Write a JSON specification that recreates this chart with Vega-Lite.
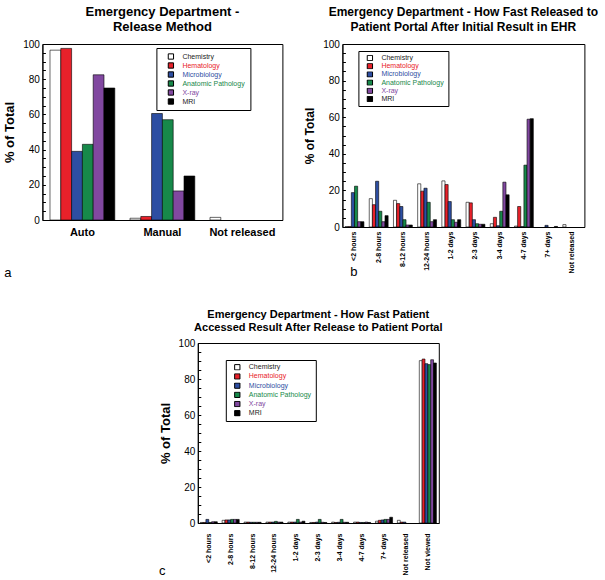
{
  "$schema": "https://vega.github.io/schema/vega-lite/v6.json",
  "padding": {"left": 3, "top": 5, "right": 0, "bottom": 0},
  "background": "white",
  "config": {
    "font": "Liberation Sans",
    "view": {"stroke": "black", "strokeWidth": 1},
    "axis": {"domainColor": "black", "labelColor": "black", "titleColor": "black", "tickColor": "black", "grid": false, "labelFont": "Liberation Sans", "titleFont": "Liberation Sans"},
    "title": {"font": "Liberation Sans", "fontWeight": "bold", "anchor": "middle", "color": "black"},
    "legend": {"symbolType": "square", "symbolSize": 28, "clipHeight": 6.5, "labelFontSize": 7, "labelFont": "Liberation Sans", "rowPadding": 1.2, "padding": 4, "strokeColor": "black", "fillColor": "white", "symbolStrokeColor": "black", "symbolStrokeWidth": 1, "labelOffset": 8, "symbolOffset": 4, "orient": "none"}
  },
  "datasets": {
    "a": [
      {"category": "Auto", "department": "Chemistry", "percent": 96.5},
      {"category": "Auto", "department": "Hematology", "percent": 97.5},
      {"category": "Auto", "department": "Microbiology", "percent": 39},
      {"category": "Auto", "department": "Anatomic Pathology", "percent": 43},
      {"category": "Auto", "department": "X-ray", "percent": 82.5},
      {"category": "Auto", "department": "MRI", "percent": 75},
      {"category": "Manual", "department": "Chemistry", "percent": 1},
      {"category": "Manual", "department": "Hematology", "percent": 2},
      {"category": "Manual", "department": "Microbiology", "percent": 60.5},
      {"category": "Manual", "department": "Anatomic Pathology", "percent": 57},
      {"category": "Manual", "department": "X-ray", "percent": 16.5},
      {"category": "Manual", "department": "MRI", "percent": 25},
      {"category": "Not released", "department": "Chemistry", "percent": 1.5}
    ],
    "b": [
      {"category": "<2 hours", "department": "Chemistry", "percent": 0.2},
      {"category": "<2 hours", "department": "Hematology", "percent": 0.2},
      {"category": "<2 hours", "department": "Microbiology", "percent": 18.8},
      {"category": "<2 hours", "department": "Anatomic Pathology", "percent": 22.3},
      {"category": "<2 hours", "department": "X-ray", "percent": 2.9},
      {"category": "<2 hours", "department": "MRI", "percent": 2.9},
      {"category": "2-8 hours", "department": "Chemistry", "percent": 15.5},
      {"category": "2-8 hours", "department": "Hematology", "percent": 12.2},
      {"category": "2-8 hours", "department": "Microbiology", "percent": 25},
      {"category": "2-8 hours", "department": "Anatomic Pathology", "percent": 8.6},
      {"category": "2-8 hours", "department": "X-ray", "percent": 2.9},
      {"category": "2-8 hours", "department": "MRI", "percent": 6.2},
      {"category": "8-12 hours", "department": "Chemistry", "percent": 14.6},
      {"category": "8-12 hours", "department": "Hematology", "percent": 12.8},
      {"category": "8-12 hours", "department": "Microbiology", "percent": 11.2},
      {"category": "8-12 hours", "department": "Anatomic Pathology", "percent": 4.0},
      {"category": "8-12 hours", "department": "X-ray", "percent": 1.1},
      {"category": "8-12 hours", "department": "MRI", "percent": 1.1},
      {"category": "12-24 hours", "department": "Chemistry", "percent": 23.6},
      {"category": "12-24 hours", "department": "Hematology", "percent": 19.6},
      {"category": "12-24 hours", "department": "Microbiology", "percent": 21.2},
      {"category": "12-24 hours", "department": "Anatomic Pathology", "percent": 13.5},
      {"category": "12-24 hours", "department": "X-ray", "percent": 2.9},
      {"category": "12-24 hours", "department": "MRI", "percent": 4.0},
      {"category": "1-2 days", "department": "Chemistry", "percent": 25.2},
      {"category": "1-2 days", "department": "Hematology", "percent": 23.2},
      {"category": "1-2 days", "department": "Microbiology", "percent": 13.9},
      {"category": "1-2 days", "department": "Anatomic Pathology", "percent": 4.0},
      {"category": "1-2 days", "department": "X-ray", "percent": 2.6},
      {"category": "1-2 days", "department": "MRI", "percent": 4.0},
      {"category": "2-3 days", "department": "Chemistry", "percent": 13.5},
      {"category": "2-3 days", "department": "Hematology", "percent": 13.2},
      {"category": "2-3 days", "department": "Microbiology", "percent": 4.0},
      {"category": "2-3 days", "department": "Anatomic Pathology", "percent": 1.8},
      {"category": "2-3 days", "department": "X-ray", "percent": 1.5},
      {"category": "2-3 days", "department": "MRI", "percent": 1.5},
      {"category": "3-4 days", "department": "Chemistry", "percent": 1.8},
      {"category": "3-4 days", "department": "Hematology", "percent": 5.3},
      {"category": "3-4 days", "department": "Microbiology", "percent": 0.7},
      {"category": "3-4 days", "department": "Anatomic Pathology", "percent": 8.6},
      {"category": "3-4 days", "department": "X-ray", "percent": 24.5},
      {"category": "3-4 days", "department": "MRI", "percent": 17.6},
      {"category": "4-7 days", "department": "Chemistry", "percent": 0.5},
      {"category": "4-7 days", "department": "Hematology", "percent": 11.2},
      {"category": "4-7 days", "department": "Microbiology", "percent": 0.2},
      {"category": "4-7 days", "department": "Anatomic Pathology", "percent": 33.8},
      {"category": "4-7 days", "department": "X-ray", "percent": 58.9},
      {"category": "4-7 days", "department": "MRI", "percent": 59.2},
      {"category": "7+ days", "department": "Microbiology", "percent": 0.9},
      {"category": "7+ days", "department": "MRI", "percent": 0.3},
      {"category": "Not released", "department": "Chemistry", "percent": 1.3}
    ],
    "c": [
      {"category": "<2 hours", "department": "Chemistry", "percent": 0.3},
      {"category": "<2 hours", "department": "Hematology", "percent": 0.3},
      {"category": "<2 hours", "department": "Microbiology", "percent": 2.0},
      {"category": "<2 hours", "department": "Anatomic Pathology", "percent": 0.3},
      {"category": "<2 hours", "department": "X-ray", "percent": 0.7},
      {"category": "<2 hours", "department": "MRI", "percent": 0.7},
      {"category": "2-8 hours", "department": "Chemistry", "percent": 1.5},
      {"category": "2-8 hours", "department": "Hematology", "percent": 1.7},
      {"category": "2-8 hours", "department": "Microbiology", "percent": 1.7},
      {"category": "2-8 hours", "department": "Anatomic Pathology", "percent": 2.0},
      {"category": "2-8 hours", "department": "X-ray", "percent": 2.0},
      {"category": "2-8 hours", "department": "MRI", "percent": 2.0},
      {"category": "8-12 hours", "department": "Chemistry", "percent": 0.5},
      {"category": "8-12 hours", "department": "Hematology", "percent": 0.5},
      {"category": "8-12 hours", "department": "Microbiology", "percent": 0.4},
      {"category": "8-12 hours", "department": "Anatomic Pathology", "percent": 0.4},
      {"category": "8-12 hours", "department": "X-ray", "percent": 0.4},
      {"category": "8-12 hours", "department": "MRI", "percent": 0.4},
      {"category": "12-24 hours", "department": "Chemistry", "percent": 0.5},
      {"category": "12-24 hours", "department": "Hematology", "percent": 0.5},
      {"category": "12-24 hours", "department": "Microbiology", "percent": 0.5},
      {"category": "12-24 hours", "department": "Anatomic Pathology", "percent": 0.9},
      {"category": "12-24 hours", "department": "X-ray", "percent": 0.5},
      {"category": "12-24 hours", "department": "MRI", "percent": 0.5},
      {"category": "1-2 days", "department": "Chemistry", "percent": 0.5},
      {"category": "1-2 days", "department": "Hematology", "percent": 0.5},
      {"category": "1-2 days", "department": "Microbiology", "percent": 0.5},
      {"category": "1-2 days", "department": "Anatomic Pathology", "percent": 2.0},
      {"category": "1-2 days", "department": "X-ray", "percent": 0.5},
      {"category": "1-2 days", "department": "MRI", "percent": 1.0},
      {"category": "2-3 days", "department": "Chemistry", "percent": 0.3},
      {"category": "2-3 days", "department": "Hematology", "percent": 0.3},
      {"category": "2-3 days", "department": "Microbiology", "percent": 0.5},
      {"category": "2-3 days", "department": "Anatomic Pathology", "percent": 2.0},
      {"category": "2-3 days", "department": "X-ray", "percent": 0.4},
      {"category": "2-3 days", "department": "MRI", "percent": 0.3},
      {"category": "3-4 days", "department": "Chemistry", "percent": 0.5},
      {"category": "3-4 days", "department": "Hematology", "percent": 0.3},
      {"category": "3-4 days", "department": "Microbiology", "percent": 0.4},
      {"category": "3-4 days", "department": "Anatomic Pathology", "percent": 2.0},
      {"category": "3-4 days", "department": "X-ray", "percent": 0.4},
      {"category": "3-4 days", "department": "MRI", "percent": 0.4},
      {"category": "4-7 days", "department": "Chemistry", "percent": 0.5},
      {"category": "4-7 days", "department": "Hematology", "percent": 0.5},
      {"category": "4-7 days", "department": "Microbiology", "percent": 0.3},
      {"category": "4-7 days", "department": "Anatomic Pathology", "percent": 0.3},
      {"category": "4-7 days", "department": "X-ray", "percent": 0.5},
      {"category": "4-7 days", "department": "MRI", "percent": 0.3},
      {"category": "7+ days", "department": "Chemistry", "percent": 1.0},
      {"category": "7+ days", "department": "Hematology", "percent": 1.5},
      {"category": "7+ days", "department": "Microbiology", "percent": 1.7},
      {"category": "7+ days", "department": "Anatomic Pathology", "percent": 2.0},
      {"category": "7+ days", "department": "X-ray", "percent": 2.0},
      {"category": "7+ days", "department": "MRI", "percent": 3.2},
      {"category": "Not released", "department": "Chemistry", "percent": 1.5},
      {"category": "Not released", "department": "Hematology", "percent": 0.5},
      {"category": "Not released", "department": "Microbiology", "percent": 0.5},
      {"category": "Not viewed", "department": "Chemistry", "percent": 90.2},
      {"category": "Not viewed", "department": "Hematology", "percent": 91.1},
      {"category": "Not viewed", "department": "Microbiology", "percent": 88.5},
      {"category": "Not viewed", "department": "Anatomic Pathology", "percent": 88.0},
      {"category": "Not viewed", "department": "X-ray", "percent": 90.7},
      {"category": "Not viewed", "department": "MRI", "percent": 88.9}
    ]
  },
  "resolve": {"scale": {"color": "independent", "x": "independent", "y": "independent", "xOffset": "independent"}, "legend": {"color": "independent"}},
  "center": true,
  "spacing": 28,
  "vconcat": [
    {
      "spacing": 19,
      "resolve": {"scale": {"color": "independent", "x": "independent", "y": "independent", "xOffset": "independent"}, "legend": {"color": "independent"}},
      "hconcat": [
        {
          "data": {"name": "a"},
          "width": 240,
          "height": 176,
          "title": {"text": ["Emergency Department -", "Release Method"], "fontSize": 13, "lineHeight": 15, "offset": 5},
          "mark": {"type": "bar", "stroke": "black", "strokeWidth": 0.6},
          "encoding": {
            "x": {"field": "category", "type": "nominal", "sort": ["Auto", "Manual", "Not released"], "scale": {"paddingInner": 0.19, "paddingOuter": 0.095}, "axis": {"title": "a", "titleFontSize": 13, "titleFontWeight": "normal", "titleX": -35, "titleY": 52, "titleAlign": "center", "titleBaseline": "middle", "labelAngle": 0, "labelFontSize": 11, "labelFontWeight": "bold", "ticks": false, "labelPadding": 6}},
            "xOffset": {"field": "department", "type": "nominal", "scale": {"domain": ["Chemistry", "Hematology", "Microbiology", "Anatomic Pathology", "X-ray", "MRI"], "paddingInner": 0, "paddingOuter": 0}},
            "y": {"field": "percent", "type": "quantitative", "scale": {"domain": [0, 100], "nice": false}, "axis": {"title": "% of Total", "titleFontSize": 13, "titleFontWeight": "bold", "titlePadding": 6, "values": [0,5,10,15,20,25,30,35,40,45,50,55,60,65,70,75,80,85,90,95,100], "labelExpr": "datum.value % 20 === 0 ? datum.label : ''", "tickSize": -3, "labelPadding": 6, "labelFontSize": 10}},
            "color": {"field": "department", "type": "nominal", "scale": {"domain": ["Chemistry", "Hematology", "Microbiology", "Anatomic Pathology", "X-ray", "MRI"], "range": ["#ffffff", "#e8212a", "#2d4ea2", "#17894a", "#8148a0", "#000000"]}, "legend": {"title": null, "legendX": 114, "legendY": 4, "clipHeight": 7, "rowPadding": 1, "symbolOffset": 6, "padding": 5, "encode": {"labels": {"update": {"fill": {"signal": "datum.value === 'Hematology' ? '#e8212a' : datum.value === 'Microbiology' ? '#2d4ea2' : datum.value === 'Anatomic Pathology' ? '#17894a' : datum.value === 'X-ray' ? '#8148a0' : '#222222'"}}}}}}
          }
        },
        {
          "data": {"name": "b"},
          "width": 242,
          "height": 183,
          "title": {"text": ["Emergency Department - How Fast Released to", "Patient Portal After Initial Result in EHR"], "fontSize": 12, "lineHeight": 15, "offset": 5},
          "mark": {"type": "bar", "stroke": "black", "strokeWidth": 0.6},
          "encoding": {
            "x": {"field": "category", "type": "nominal", "sort": ["<2 hours", "2-8 hours", "8-12 hours", "12-24 hours", "1-2 days", "2-3 days", "3-4 days", "4-7 days", "7+ days", "Not released"], "scale": {"paddingInner": 0.22, "paddingOuter": 0.11}, "axis": {"title": "b", "titleFontSize": 13, "titleFontWeight": "normal", "titleX": 11, "titleY": 44, "titleAlign": "center", "titleBaseline": "middle", "labelAngle": -90, "labelFontSize": 7, "labelFontWeight": "bold", "ticks": false, "labelPadding": 4}},
            "xOffset": {"field": "department", "type": "nominal", "scale": {"domain": ["Chemistry", "Hematology", "Microbiology", "Anatomic Pathology", "X-ray", "MRI"], "paddingInner": 0, "paddingOuter": 0}},
            "y": {"field": "percent", "type": "quantitative", "scale": {"domain": [0, 100], "nice": false}, "axis": {"title": "% of Total", "titleFontSize": 12, "titleFontWeight": "bold", "titlePadding": 6, "values": [0,5,10,15,20,25,30,35,40,45,50,55,60,65,70,75,80,85,90,95,100], "labelExpr": "datum.value % 20 === 0 ? datum.label : ''", "tickSize": -3, "labelPadding": 6, "labelFontSize": 10}},
            "color": {"field": "department", "type": "nominal", "scale": {"domain": ["Chemistry", "Hematology", "Microbiology", "Anatomic Pathology", "X-ray", "MRI"], "range": ["#ffffff", "#e8212a", "#2d4ea2", "#17894a", "#8148a0", "#000000"]}, "legend": {"title": null, "legendX": 16, "legendY": 7, "clipHeight": 6, "rowPadding": 1.2, "encode": {"labels": {"update": {"fill": {"signal": "datum.value === 'Hematology' ? '#e8212a' : datum.value === 'Microbiology' ? '#2d4ea2' : datum.value === 'Anatomic Pathology' ? '#17894a' : datum.value === 'X-ray' ? '#8148a0' : '#222222'"}}}}}}
          }
        }
      ]
    },
    {
      "data": {"name": "c"},
      "width": 241,
      "height": 180,
      "title": {"text": ["Emergency Department - How Fast Patient", "Accessed Result After Release to Patient Portal"], "fontSize": 11, "lineHeight": 13, "offset": 5},
      "mark": {"type": "bar", "stroke": "black", "strokeWidth": 0.6},
      "encoding": {
        "x": {"field": "category", "type": "nominal", "sort": ["<2 hours", "2-8 hours", "8-12 hours", "12-24 hours", "1-2 days", "2-3 days", "3-4 days", "4-7 days", "7+ days", "Not released", "Not viewed"], "scale": {"paddingInner": 0.22, "paddingOuter": 0.11}, "axis": {"title": "c", "titleFontSize": 13, "titleFontWeight": "normal", "titleX": -36, "titleY": 47, "titleAlign": "center", "titleBaseline": "middle", "labelAngle": -90, "labelFontSize": 7, "labelFontWeight": "bold", "ticks": false, "labelPadding": 10}},
        "xOffset": {"field": "department", "type": "nominal", "scale": {"domain": ["Chemistry", "Hematology", "Microbiology", "Anatomic Pathology", "X-ray", "MRI"], "paddingInner": 0, "paddingOuter": 0}},
        "y": {"field": "percent", "type": "quantitative", "scale": {"domain": [0, 100], "nice": false}, "axis": {"title": "% of Total", "titleFontSize": 13, "titleFontWeight": "bold", "titlePadding": 6, "values": [0,5,10,15,20,25,30,35,40,45,50,55,60,65,70,75,80,85,90,95,100], "labelExpr": "datum.value % 20 === 0 ? datum.label : ''", "tickSize": -3, "labelPadding": 6, "labelFontSize": 10}},
        "color": {"field": "department", "type": "nominal", "scale": {"domain": ["Chemistry", "Hematology", "Microbiology", "Anatomic Pathology", "X-ray", "MRI"], "range": ["#ffffff", "#e8212a", "#2d4ea2", "#17894a", "#8148a0", "#000000"]}, "legend": {"title": null, "legendX": 28, "legendY": 17, "encode": {"labels": {"update": {"fill": {"signal": "datum.value === 'Hematology' ? '#e8212a' : datum.value === 'Microbiology' ? '#2d4ea2' : datum.value === 'Anatomic Pathology' ? '#17894a' : datum.value === 'X-ray' ? '#8148a0' : '#222222'"}}}}}}
      }
    }
  ]
}
